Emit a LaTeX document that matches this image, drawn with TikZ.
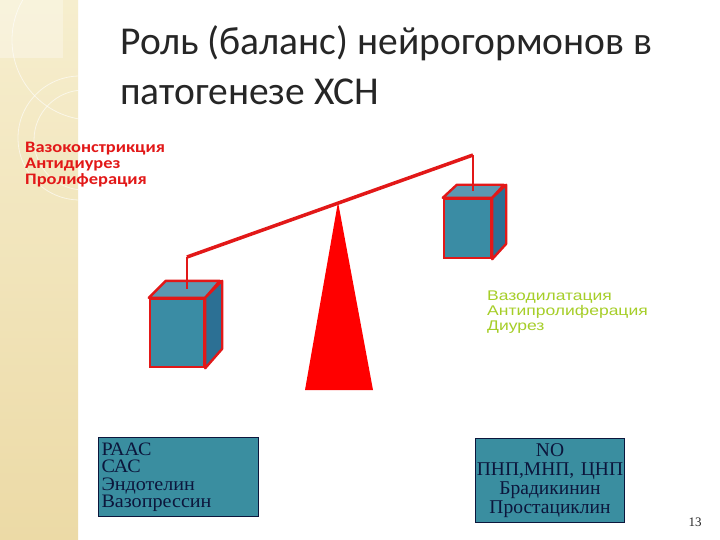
\documentclass[tikz,border=0pt]{standalone}
\usepackage{fontspec}
\setmainfont{Liberation Serif}
\newfontfamily\calibri{Carlito}
\newfontfamily\widecalibri[FakeStretch=1.15]{Carlito}
\newfontfamily\widearial[FakeStretch=1.25]{Liberation Sans}
\newfontfamily\widetimes[FakeStretch=1.06]{Liberation Serif}
\usetikzlibrary{positioning}

\definecolor{beamred}{RGB}{226,24,24}
\definecolor{cubefront}{RGB}{58,140,164}
\definecolor{cubetop}{RGB}{92,152,178}
\definecolor{cubeside}{RGB}{44,112,148}
\definecolor{boxteal}{RGB}{58,142,160}
\definecolor{boxtext}{RGB}{12,22,60}
\definecolor{titlegray}{RGB}{38,38,38}
\definecolor{leafgreen}{RGB}{166,206,40}
\definecolor{stripbeige}{RGB}{236,218,166}
\definecolor{stripligt}{RGB}{246,238,206}

\begin{document}
\begin{tikzpicture}[x=1pt, y=-1pt,
        cubeface/.style={draw=beamred, fill=cubefront, line width=2.4pt, inner sep=0pt},
        cubetopface/.style={draw=beamred, fill=cubetop, line width=2.4pt, line join=round},
        cubesideface/.style={draw=beamred, fill=cubeside, line width=2.4pt, line join=round},
        beam/.style={draw=beamred, line width=3.5pt},
        infobox/.style={draw=boxtext, fill=boxteal, line width=1pt, text=boxtext,
                font=\widetimes\fontsize{19}{17.5}\selectfont},
        effects/.style={anchor=north west, inner sep=0pt, align=left}
    ]

    \useasboundingbox (0,0) rectangle (720,540);
    \fill[white] (0,0) rectangle (720,540);

    % left strip of the slide
    \shade[top color=stripligt, bottom color=stripbeige] (0,0) rectangle (78,540);
    \begin{scope}
        \clip (0,0) rectangle (78,540);
        \fill[white, opacity=0.3] (0,0) rectangle (63,58);
        \draw[white, opacity=0.6, line width=0.8pt] (92,40) circle[radius=80pt];
        \draw[white, opacity=0.6, line width=0.8pt] (80,138) circle[radius=62pt];
        \draw[white, opacity=0.6, line width=0.8pt] (84,140) circle[radius=50pt];
    \end{scope}

    % title
    \node[anchor=north west, inner sep=0pt, align=left, text=titlegray,
        font=\calibri\fontsize{39.5}{50}\selectfont] (title) at (120,25)
        {Роль (баланс) нейрогормонов в\\патогенезе ХСН};

    % effects of both sides
    \node[effects, text=beamred, font=\widecalibri\bfseries\fontsize{16}{16}\selectfont]
        (constrict) at (25,142) {Вазоконстрикция\\Антидиурез\\Пролиферация};
    \node[effects, text=leafgreen, font=\widearial\fontsize{14}{15}\selectfont]
        (dilate) at (487,291) {Вазодилатация\\Антипролиферация\\Диурез};

    % fulcrum
    \coordinate (apex) at (338,202);
    \fill[red] (apex) -- (373,390) -- (305,390) -- cycle;

    % left cube
    \node[cubeface, minimum width=54pt, minimum height=68pt] (lfront) at (177,333) {};
    \filldraw[cubetopface] (lfront.north west) -- ++(17,-17) -- ++(54,0) -- (lfront.north east) -- cycle;
    \filldraw[cubesideface] (lfront.north east) -- ++(17,-17) -- ++(0,68) -- (lfront.south east) -- cycle;

    % right cube
    \node[cubeface, minimum width=47pt, minimum height=59pt] (rfront) at (467.5,228.5) {};
    \filldraw[cubetopface] (rfront.north west) -- ++(14,-13) -- ++(47,0) -- (rfront.north east) -- cycle;
    \filldraw[cubesideface] (rfront.north east) -- ++(14,-13) -- ++(0,59) -- (rfront.south east) -- cycle;

    % beam and hangers
    \coordinate (lhook) at (187,257);
    \coordinate (rhook) at (473,155);
    \coordinate (lload) at (187,289);
    \coordinate (rload) at (473,191);
    \draw[beam] (lhook) -- (rhook);
    \draw[beam, line width=2.6pt] (lhook) -- (lload);
    \draw[beam, line width=2.6pt] (rhook) -- (rload);

    % lists of neurohormones
    \node[infobox, anchor=north west, minimum width=160pt, minimum height=79pt,
        text width=154pt, inner xsep=3pt, align=left] (pressors) at (98,437)
        {РААС\\САС\\Эндотелин\\Вазопрессин};
    \node[infobox, anchor=north west, minimum width=149pt, minimum height=84pt,
        text width=149pt, inner xsep=0pt, align=center,
        font=\fontsize{19.5}{19}\selectfont] (depressors) at (475,438)
        {NO\\ПНП,МНП, ЦНП\\Брадикинин\\Простациклин};

    % slide number
    \node[font=\fontsize{13}{14}\selectfont, text=titlegray] (pagenum) at (695,522) {13};

\end{tikzpicture}
\end{document}
